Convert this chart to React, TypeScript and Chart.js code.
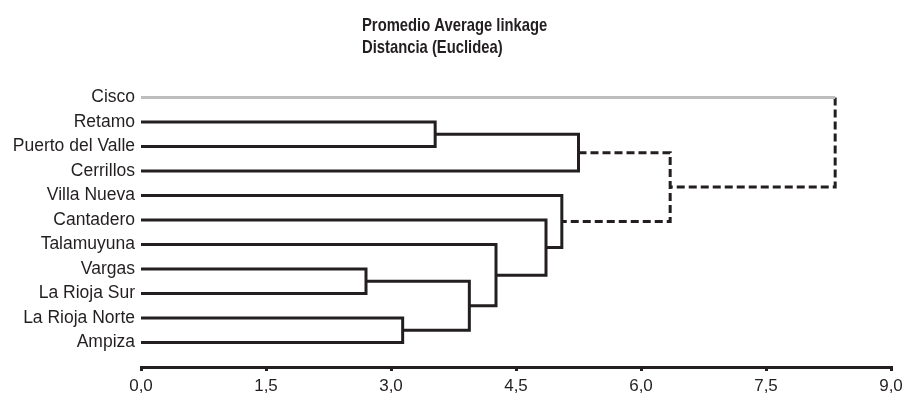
import React, { useEffect, useRef } from 'react';
import { Chart, registerables } from 'chart.js';

Chart.register(...registerables);

// Leaves, top to bottom
const leaves = [
  'Cisco',
  'Retamo',
  'Puerto del Valle',
  'Cerrillos',
  'Villa Nueva',
  'Cantadero',
  'Talamuyuna',
  'Vargas',
  'La Rioja Sur',
  'La Rioja Norte',
  'Ampiza',
];
const leafColors = ['#bdbdbd', '#231f20', '#231f20', '#231f20', '#231f20', '#231f20', '#231f20', '#231f20', '#231f20', '#231f20', '#231f20'];

// Merges: node ids 0..10 are leaves, merge k creates node 11 + k
const mergeLeft = [1, 7, 9, 12, 6, 5, 4, 11, 18, 0];
const mergeRight = [2, 8, 10, 13, 14, 15, 16, 3, 17, 19];
const mergeHeight = [3.53, 2.7, 3.14, 3.94, 4.26, 4.86, 5.05, 5.25, 6.35, 8.33];
const mergeDashed = [false, false, false, false, false, false, false, false, true, true];

const xTicks = [0, 1.5, 3, 4.5, 6, 7.5, 9];
const titleLines = ['Promedio Average linkage', 'Distancia (Euclidea)'];

const DARK = '#231f20';
const FONT = '"Liberation Sans", Arial, sans-serif';

type Pt = { x: number; y: number };
type Seg = { pts: Pt[]; color: string; dashed: boolean };

function buildDatasets() {
  const nx: number[] = leaves.map(() => 0);
  const ny: number[] = leaves.map((_, i) => i);
  const segs: Seg[] = [];
  mergeHeight.forEach((h, k) => {
    const a = mergeLeft[k];
    const b = mergeRight[k];
    const dashed = mergeDashed[k];
    const styleOf = (c: number) =>
      c < leaves.length ? { color: leafColors[c], dashed: false } : { color: DARK, dashed };
    const sa = styleOf(a);
    const sb = styleOf(b);
    const pieces: Seg[] = [
      { pts: [{ x: nx[a], y: ny[a] }, { x: h, y: ny[a] }], color: sa.color, dashed: sa.dashed },
      { pts: [{ x: h, y: ny[a] }, { x: h, y: ny[b] }], color: DARK, dashed },
      { pts: [{ x: h, y: ny[b] }, { x: nx[b], y: ny[b] }], color: sb.color, dashed: sb.dashed },
    ];
    const joined: Seg[] = [];
    pieces.forEach((p) => {
      const last = joined[joined.length - 1];
      if (last && last.color === p.color && last.dashed === p.dashed) {
        last.pts.push(p.pts[1]);
      } else {
        joined.push({ pts: [...p.pts], color: p.color, dashed: p.dashed });
      }
    });
    segs.push(...joined);
    nx.push(h);
    ny.push((ny[a] + ny[b]) / 2);
  });
  return segs.map((s) => ({
    data: s.pts,
    showLine: true,
    borderColor: s.color,
    backgroundColor: s.color,
    borderWidth: 3,
    borderDash: s.dashed ? [8, 4] : [],
    borderJoinStyle: 'miter' as const,
    borderCapStyle: 'butt' as const,
    pointRadius: 0,
    pointHoverRadius: 0,
    fill: false,
    tension: 0,
    clip: false as const,
  }));
}

const titlePlugin = {
  id: 'leftTitle',
  afterDraw(chart: Chart) {
    const ctx = chart.ctx;
    ctx.save();
    ctx.fillStyle = DARK;
    ctx.font = 'bold 18.5px "Liberation Sans", Arial, sans-serif';
    ctx.textAlign = 'left';
    ctx.textBaseline = 'alphabetic';
    // condensed look of the original title face
    ctx.translate(362, 0);
    ctx.scale(0.8, 1);
    ctx.fillText(titleLines[0], 0, 31);
    ctx.fillText(titleLines[1], 0, 53);
    ctx.restore();
  },
};

export default function App() {
  const ref = useRef<HTMLCanvasElement | null>(null);
  useEffect(() => {
    if (!ref.current) return;
    const chart = new Chart(ref.current, {
      type: 'scatter',
      data: { datasets: buildDatasets() as any },
      options: {
        responsive: false,
        animation: false,
        devicePixelRatio: 1,
        layout: { padding: { left: 0, right: 12, top: 73, bottom: 0 } },
        plugins: {
          legend: { display: false },
          tooltip: { enabled: false },
          title: { display: false },
        },
        scales: {
          x: {
            type: 'linear',
            min: 0,
            max: 9,
            afterBuildTicks: (scale: any) => {
              scale.ticks = xTicks.map((v) => ({ value: v }));
            },
            afterFit: (scale: any) => {
              scale.height = 29;
              scale.paddingLeft = 0;
              scale.paddingRight = 0;
            },
            ticks: {
              callback: (v: any) => Number(v).toFixed(1).replace('.', ','),
              font: { family: FONT, size: 17 },
              color: DARK,
              padding: 5,
              maxRotation: 0,
              autoSkip: false,
            },
            grid: {
              display: true,
              drawOnChartArea: false,
              drawTicks: true,
              tickLength: 4,
              color: DARK,
              lineWidth: 3,
            },
            border: { display: true, color: DARK, width: 3 },
          },
          y: {
            type: 'linear',
            reverse: true,
            min: -1,
            max: 11,
            afterBuildTicks: (scale: any) => {
              scale.ticks = leaves.map((_, i) => ({ value: i }));
            },
            afterFit: (scale: any) => {
              scale.width = 141;
              scale.paddingTop = 0;
              scale.paddingBottom = 0;
            },
            ticks: {
              callback: (v: any) => leaves[Number(v)] ?? '',
              font: { family: FONT, size: 17.5 },
              color: DARK,
              padding: 6,
              autoSkip: false,
            },
            grid: { display: false, drawTicks: false },
            border: { display: false },
          },
        },
      },
      plugins: [titlePlugin],
    });
    return () => chart.destroy();
  }, []);
  return (
    <div style={{ position: 'absolute', left: 0, top: 0, width: 903, height: 396 }}>
      <canvas ref={ref} width={903} height={396} style={{ display: 'block', width: 903, height: 396 }} />
    </div>
  );
}
